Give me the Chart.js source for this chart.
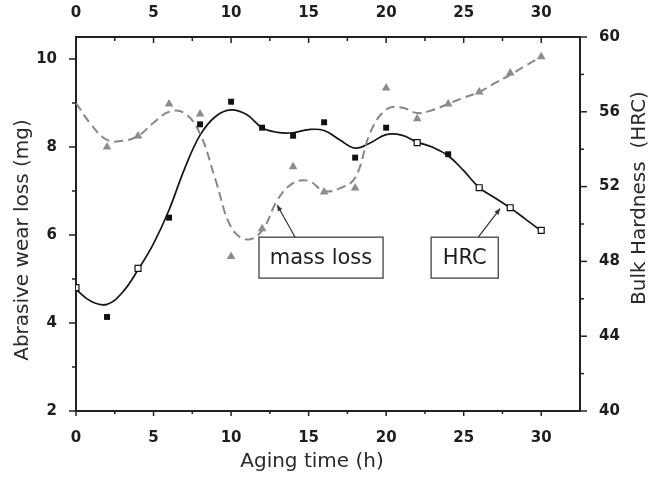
<!DOCTYPE html>
<html><head><meta charset="utf-8">
<script src="https://cdn.jsdelivr.net/npm/chart.js@4"></script>
<style>html,body{margin:0;padding:0;background:#fff}#wrap{width:652px;height:477px}</style>
</head><body><div id="wrap"><canvas id="c" width="652" height="477"></canvas></div>
<script>
// ---- data ----
const ageHours    = [0, 2, 4, 6, 8, 10, 12, 14, 16, 18, 20, 22, 24, 26, 28, 30];
const massLossMg  = [null, 8.0, 8.25, 8.98, 8.75, 5.51, 6.14, 7.55, 6.98, 7.07, 9.34, 8.64, 8.98, 9.25, 9.68, 10.05];
const hardnessHRC = [46.6, 45.03, 47.63, 50.34, 55.33, 56.54, 55.15, 54.72, 55.44, 53.55, 55.15, 54.35, 53.73, 51.94, 50.87, 49.66];
const hollowHours = [0, 4, 22, 26, 28, 30];

const fitHours    = [0,1,2,3,4,5,6,7,8,9,10,11,12,13,14,15,16,17,18,19,20,21,22,23,24,25,26,27,28,29,30];
const massLossFit = [9.0,8.5,8.16,8.14,8.25,8.55,8.8,8.77,8.3,7.25,6.18,5.9,6.1,6.8,7.18,7.23,7.0,7.06,7.3,8.35,8.85,8.9,8.77,8.84,8.98,9.12,9.25,9.45,9.64,9.85,10.05];
const hardnessFit = [46.5,45.85,45.7,46.35,47.55,48.95,50.75,52.95,54.75,55.75,56.1,55.85,55.15,54.9,54.88,55.05,55.0,54.5,54.06,54.35,54.78,54.75,54.38,54.1,53.65,52.85,51.95,51.4,50.86,50.25,49.63];

const xTicks     = [0, 5, 10, 15, 20, 25, 30];
const leftTicks  = [2, 4, 6, 8, 10];
const rightTicks = [40, 44, 48, 52, 56, 60];

const labelsText = { x: 'Aging time (h)', yLeft: 'Abrasive wear loss (mg)', yRight: 'Bulk Hardness  (HRC)' };
// annotation boxes in data units (left axis)
const notes = [
  { text: 'mass loss', x1: 11.8, x2: 19.8, yTop: 5.95, yBot: 5.02, ax: 14.13, ay: 5.95, tx: 12.97, ty: 6.68 },
  { text: 'HRC',       x1: 22.9, x2: 27.23, yTop: 5.95, yBot: 5.02, ax: 25.94, ay: 5.95, tx: 27.35, ty: 6.6 }
];

const toPts = (xs, ys) => xs.map((x, i) => ({ x: x, y: ys[i] })).filter(p => p.y !== null);

Chart.defaults.font.family = "'DejaVu Sans', sans-serif";
const tickFont = { family: "'DejaVu Sans', sans-serif", size: 15, weight: 'bold' };
const TICK_COLOR = '#1e1e1e';
const AXIS_COLOR = '#222';

function setTicks(arr) { return s => { s.ticks = arr.map(v => ({ value: v })); }; }

const tickPlugin = {
  id: 'ticksAndText',
  afterDraw(chart) {
    const ctx = chart.ctx, a = chart.chartArea, sc = chart.scales;
    ctx.save();
    ctx.strokeStyle = AXIS_COLOR; ctx.lineWidth = 1.5;
    const line = (x1, y1, x2, y2) => { ctx.beginPath(); ctx.moveTo(x1, y1); ctx.lineTo(x2, y2); ctx.stroke(); };
    for (let i = 0; i < xTicks.length; i++) {
      const px = sc.x.getPixelForValue(xTicks[i]);
      line(px, a.bottom, px, a.bottom + 5);
      line(px, a.top, px, a.top + 6);
      if (i < xTicks.length - 1) {
        const mx = sc.x.getPixelForValue((xTicks[i] + xTicks[i + 1]) / 2);
        line(mx, a.bottom, mx, a.bottom + 3);
        line(mx, a.top, mx, a.top + 4);
      }
    }
    for (let i = 0; i < leftTicks.length; i++) {
      const py = sc.y.getPixelForValue(leftTicks[i]);
      line(a.left - 7, py, a.left, py);
      if (i < leftTicks.length - 1) {
        const my = sc.y.getPixelForValue((leftTicks[i] + leftTicks[i + 1]) / 2);
        line(a.left - 4, my, a.left, my);
      }
    }
    for (let i = 0; i < rightTicks.length; i++) {
      const py = sc.y2.getPixelForValue(rightTicks[i]);
      line(a.right, py, a.right + 7, py);
      if (i < rightTicks.length - 1) {
        const my = sc.y2.getPixelForValue((rightTicks[i] + rightTicks[i + 1]) / 2);
        line(a.right, my, a.right + 4, my);
      }
    }
    ctx.fillStyle = '#2a2a2a';
    ctx.font = "20px 'DejaVu Sans', sans-serif";
    ctx.textAlign = 'center'; ctx.textBaseline = 'alphabetic';
    ctx.fillText(labelsText.x, 312, 467);
    ctx.save(); ctx.translate(28, 240); ctx.rotate(-Math.PI / 2); ctx.fillText(labelsText.yLeft, 0, 0); ctx.restore();
    ctx.save(); ctx.translate(645, 198); ctx.rotate(-Math.PI / 2); ctx.fillText(labelsText.yRight, 0, 0); ctx.restore();
    ctx.restore();
  },
  afterDatasetsDraw(chart) {
    const ctx = chart.ctx, sx = chart.scales.x, sy = chart.scales.y;
    ctx.save();
    notes.forEach(n => {
      const L = sx.getPixelForValue(n.x1), R = sx.getPixelForValue(n.x2);
      const T = sy.getPixelForValue(n.yTop), B = sy.getPixelForValue(n.yBot);
      ctx.fillStyle = '#fff'; ctx.fillRect(L, T, R - L, B - T);
      ctx.strokeStyle = '#5a5a5a'; ctx.lineWidth = 1.5; ctx.strokeRect(L, T, R - L, B - T);
      ctx.fillStyle = '#1e1e1e'; ctx.font = "21px 'DejaVu Sans', sans-serif";
      ctx.textAlign = 'center'; ctx.textBaseline = 'middle';
      ctx.fillText(n.text, (L + R) / 2, (T + B) / 2 + 1);
      const ax = sx.getPixelForValue(n.ax), ay = sy.getPixelForValue(n.ay);
      const tx = sx.getPixelForValue(n.tx), ty = sy.getPixelForValue(n.ty);
      ctx.strokeStyle = '#333'; ctx.lineWidth = 1.2;
      ctx.beginPath(); ctx.moveTo(ax, ay); ctx.lineTo(tx, ty); ctx.stroke();
      const ang = Math.atan2(ty - ay, tx - ax), hl = 6, hw = 2.5;
      ctx.fillStyle = '#333';
      ctx.beginPath();
      ctx.moveTo(tx, ty);
      ctx.lineTo(tx - hl * Math.cos(ang) + hw * Math.sin(ang), ty - hl * Math.sin(ang) - hw * Math.cos(ang));
      ctx.lineTo(tx - hl * Math.cos(ang) - hw * Math.sin(ang), ty - hl * Math.sin(ang) + hw * Math.cos(ang));
      ctx.closePath(); ctx.fill();
    });
    ctx.restore();
  }
};

new Chart(document.getElementById('c'), {
  type: 'scatter',
  data: {
    datasets: [
      { label: 'mass loss points', data: toPts(ageHours, massLossMg), yAxisID: 'y', order: 0,
        pointStyle: 'triangle', pointRadius: 5, backgroundColor: '#8c8c8c', borderColor: '#8c8c8c', borderWidth: 0, showLine: false },
      { label: 'HRC points', data: toPts(ageHours, hardnessHRC), yAxisID: 'y2', order: 0,
        pointStyle: 'rect', pointRadius: 4.2,
        backgroundColor: c => (c.raw && hollowHours.includes(c.raw.x)) ? '#fff' : '#111',
        borderColor: '#111', borderWidth: c => (c.raw && hollowHours.includes(c.raw.x)) ? 1.2 : 0, showLine: false },
      { label: 'mass loss fit', data: toPts(fitHours, massLossFit), yAxisID: 'y', order: 1,
        showLine: true, borderColor: '#888', borderWidth: 2, borderDash: [9, 5], pointRadius: 0, tension: 0.4, fill: false },
      { label: 'HRC fit', data: toPts(fitHours, hardnessFit), yAxisID: 'y2', order: 1,
        showLine: true, borderColor: '#151515', borderWidth: 1.7, pointRadius: 0, tension: 0.4, fill: false }
    ]
  },
  options: {
    responsive: false, animation: false, devicePixelRatio: 1,
    layout: { padding: 0 },
    plugins: { legend: { display: false }, tooltip: { enabled: false } },
    scales: {
      x: { type: 'linear', position: 'bottom', min: 0, max: 32.5,
        afterBuildTicks: setTicks(xTicks), afterFit: s => { s.height = 66; },
        grid: { display: false }, border: { display: true, color: AXIS_COLOR, width: 2 },
        ticks: { font: tickFont, color: TICK_COLOR, padding: 10, maxRotation: 0 } },
      x2: { type: 'linear', position: 'top', axis: 'x', min: 0, max: 32.5,
        afterBuildTicks: setTicks(xTicks), afterFit: s => { s.height = 37; },
        grid: { display: false }, border: { display: true, color: AXIS_COLOR, width: 2 },
        ticks: { font: tickFont, color: TICK_COLOR, padding: 7, maxRotation: 0 } },
      y: { type: 'linear', position: 'left', min: 2, max: 10.5,
        afterBuildTicks: setTicks(leftTicks), afterFit: s => { s.width = 76; },
        grid: { display: false }, border: { display: true, color: AXIS_COLOR, width: 2 },
        ticks: { font: tickFont, color: TICK_COLOR, padding: 11 } },
      y2: { type: 'linear', position: 'right', min: 40, max: 60,
        afterBuildTicks: setTicks(rightTicks), afterFit: s => { s.width = 72; },
        grid: { display: false }, border: { display: true, color: AXIS_COLOR, width: 2 },
        ticks: { font: tickFont, color: TICK_COLOR, padding: 11 } }
    }
  },
  plugins: [tickPlugin]
});
</script>
</body></html>
